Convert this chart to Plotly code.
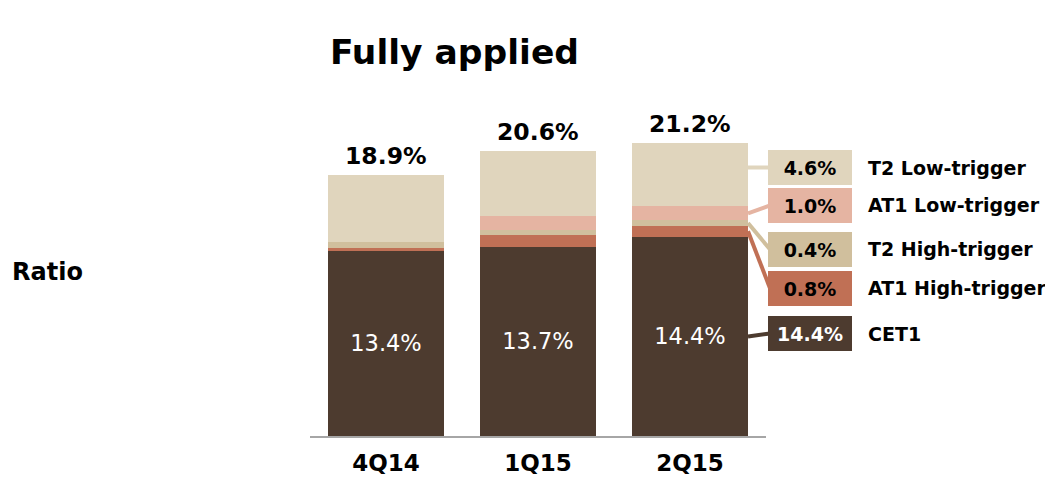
import plotly.graph_objects as go

quarters = ['4Q14', '1Q15', '2Q15']
cet1 = [13.4, 13.7, 14.4]
at1_high = [0.2, 0.8, 0.8]
t2_high = [0.4, 0.4, 0.4]
at1_low = [0.0, 1.0, 1.0]
t2_low = [4.9, 4.7, 4.6]
totals = [18.9, 20.6, 21.2]
legend_values = ['14.4%', '0.8%', '0.4%', '1.0%', '4.6%']

series = [
    ('CET1', cet1, '#4D3B2F'),
    ('AT1 High-trigger', at1_high, '#C07055'),
    ('T2 High-trigger', t2_high, '#D0BF9D'),
    ('AT1 Low-trigger', at1_low, '#E5B4A2'),
    ('T2 Low-trigger', t2_low, '#E0D5BD'),
]

# page body has an 8px margin, so the figure is drawn 8px in from the corner
OFF = 8
W, H = 1053 - OFF, 480 - OFF
FONT = 'DejaVu Sans'
BAR_W = 0.763


def px(x):
    return (x - OFF) / W


def py(y):
    return 1 - (y - OFF) / H


fig = go.Figure()
for i, (name, vals, color) in enumerate(series):
    fig.add_trace(go.Bar(
        x=list(range(len(quarters))), y=vals, name=name, width=BAR_W,
        marker=dict(color=color, line=dict(width=0)),
        text=[f'{v:.1f}%' for v in vals] if i == 0 else None,
        textposition='inside' if i == 0 else 'none',
        insidetextanchor='middle',
        textfont=dict(family=FONT, size=22.5, color='white'),
        hoverinfo='name+y',
    ))

# totals above bars
for i, t in enumerate(totals):
    fig.add_annotation(x=i, y=t, xref='x', yref='y', text=f'<b>{t:.1f}%</b>',
                       showarrow=False, yanchor='bottom', yshift=3,
                       font=dict(family=FONT, size=23.5, color='black'))

# legend boxes to the right of last bar, connected to its segments
box_y = [7.41, 10.67, 13.49, 16.67, 19.41]  # box centres in data units
bar_edge = px(748)
box_left = px(768)
base = 0.0
last = len(quarters) - 1
for (name, vals, color), by, label in zip(series, box_y, legend_values):
    top = base + vals[last]
    start = min(max(by, base), top) if name == 'T2 Low-trigger' else base + vals[last] / 2
    base = top
    fig.add_shape(type='line', xref='paper', yref='y', x0=bar_edge, y0=start,
                  x1=box_left + 0.002, y1=by, line=dict(color=color, width=4), layer='below')
    fig.add_annotation(xref='paper', yref='y', x=box_left, y=by, xanchor='left', yanchor='middle',
                       text=f'<b>{label}</b>', showarrow=False, width=84, height=35,
                       bgcolor=color, borderpad=0, borderwidth=0,
                       font=dict(family=FONT, size=19, color='white' if name == 'CET1' else 'black'))
    fig.add_annotation(xref='paper', yref='y', x=px(866), y=by, xanchor='left', yanchor='middle',
                       text=f'<b>{name}</b>', showarrow=False,
                       font=dict(family=FONT, size=19, color='black'))

fig.add_annotation(xref='paper', yref='paper', x=px(454), y=py(30), text='<b>Fully applied</b>',
                   showarrow=False, font=dict(family=FONT, size=34.5, color='black'))
fig.add_annotation(xref='paper', yref='paper', x=px(10), y=py(272), xanchor='left',
                   text='<b>Ratio</b>', showarrow=False, font=dict(family=FONT, size=24, color='black'))

fig.update_layout(
    width=W, height=H, barmode='stack', showlegend=False,
    margin=dict(l=0, r=0, t=0, b=0),
    plot_bgcolor='white', paper_bgcolor='white',
    xaxis=dict(domain=[px(310), px(766)], range=[-0.5, 2.5], tickvals=[0, 1, 2],
               ticktext=[f'<b>{q}</b>' for q in quarters], showline=True, linecolor='#A6A6A6',
               linewidth=2, showgrid=False, zeroline=False, ticks='', ticklabelstandoff=5,
               tickfont=dict(family=FONT, size=23, color='black'), automargin=False, fixedrange=True),
    yaxis=dict(domain=[py(436), py(90.25)], range=[0, 25], visible=False, fixedrange=True),
)

fig.write_html('out.html')
